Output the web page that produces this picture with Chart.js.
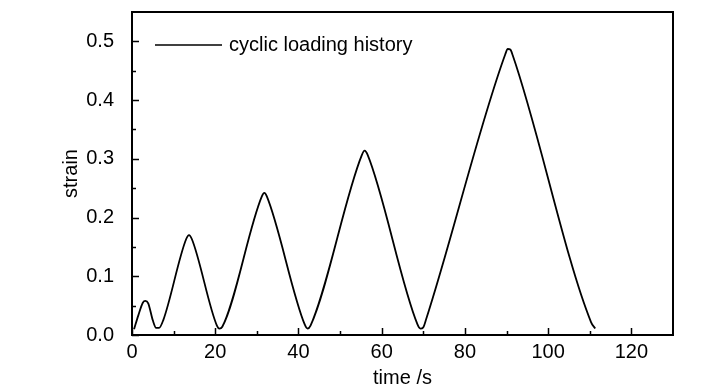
<!DOCTYPE html>
<html>
<head>
<meta charset="utf-8">
<script src="https://cdn.jsdelivr.net/npm/chart.js@4/dist/chart.umd.min.js"></script>
<style>
  html, body { margin: 0; padding: 0; background: #fff; }
  #wrap { width: 728px; height: 390px; }
</style>
</head>
<body>
<div id="wrap"><canvas id="myChart" width="728" height="390"></canvas></div>
<script>
// values
const timeValues = [0.5, 1.5, 2.6, 3.2, 3.9, 5.0, 5.8, 6.5, 7.5,
    13.0, 13.7, 14.4, 20.4, 21.0, 21.7,
    31.2, 31.8, 32.4, 41.5, 42.2, 42.9,
    55.2, 55.9, 56.6, 68.6, 69.3, 70.0, 70.6,
    89.7, 90.3, 90.9, 91.5, 110.3, 111.3];
const strainValues = [0.010, 0.033, 0.055, 0.058, 0.054, 0.025, 0.012, 0.012, 0.025,
    0.163, 0.170, 0.163, 0.016, 0.011, 0.014,
    0.236, 0.242, 0.236, 0.018, 0.011, 0.016,
    0.306, 0.314, 0.307, 0.018, 0.011, 0.013, 0.025,
    0.478, 0.487, 0.486, 0.476, 0.022, 0.011];

const xTicks = [0, 20, 40, 60, 80, 100, 120];
const xMinorTicks = [10, 30, 50, 70, 90, 110];
const yTicks = [0.0, 0.1, 0.2, 0.3, 0.4, 0.5];
const yMinorTicks = [0.05, 0.15, 0.25, 0.35, 0.45];

const seriesLabel = 'cyclic loading history';
const fontFamily = "'Liberation Sans', Arial, sans-serif";

// frame, inward ticks and the legend inside the plot
const framePlugin = {
    id: 'frame',
    afterDraw(chart) {
        const ctx = chart.ctx;
        const area = chart.chartArea;
        const xs = chart.scales.x;
        const ys = chart.scales.y;
        ctx.save();
        ctx.strokeStyle = '#000';
        ctx.lineWidth = 2;
        ctx.strokeRect(area.left, area.top, area.right - area.left, area.bottom - area.top);

        ctx.lineWidth = 1.5;
        ctx.beginPath();
        xTicks.forEach(v => {
            const px = Math.round(xs.getPixelForValue(v)) + 0.5;
            ctx.moveTo(px, area.bottom);
            ctx.lineTo(px, area.bottom - 7);
        });
        xMinorTicks.forEach(v => {
            const px = Math.round(xs.getPixelForValue(v)) + 0.5;
            ctx.moveTo(px, area.bottom);
            ctx.lineTo(px, area.bottom - 4);
        });
        yTicks.forEach(v => {
            const py = Math.round(ys.getPixelForValue(v)) + 0.5;
            ctx.moveTo(area.left, py);
            ctx.lineTo(area.left + 7, py);
        });
        yMinorTicks.forEach(v => {
            const py = Math.round(ys.getPixelForValue(v)) + 0.5;
            ctx.moveTo(area.left, py);
            ctx.lineTo(area.left + 4, py);
        });
        ctx.stroke();

        // legend
        ctx.lineWidth = 1.6;
        ctx.beginPath();
        ctx.moveTo(155, 45);
        ctx.lineTo(222, 45);
        ctx.stroke();
        ctx.fillStyle = '#000';
        ctx.font = '20px ' + fontFamily;
        ctx.textBaseline = 'middle';
        ctx.textAlign = 'left';
        ctx.fillText(chart.data.datasets[0].label, 229, 45);
        ctx.restore();
    }
};

const ctx = document.getElementById('myChart').getContext('2d');
const myChart = new Chart(ctx, {
    type: 'line',
    data: {
        datasets: [{
            label: seriesLabel,
            data: timeValues.map((t, i) => ({ x: t, y: strainValues[i] })),
            borderColor: '#000',
            borderWidth: 1.8,
            pointRadius: 0,
            cubicInterpolationMode: 'monotone',
            fill: false
        }]
    },
    options: {
        responsive: false,
        animation: false,
        layout: { padding: { left: 59, right: 55, top: 12, bottom: 0 } },
        plugins: {
            legend: { display: false },
            tooltip: { enabled: false }
        },
        scales: {
            x: {
                type: 'linear',
                min: 0,
                max: 130,
                grid: { display: false, drawTicks: false },
                border: { display: false },
                afterBuildTicks: s => { s.ticks = xTicks.map(v => ({ value: v })); },
                afterFit: s => { s.height = 55; s.paddingLeft = 0; s.paddingRight = 0; },
                ticks: {
                    color: '#000',
                    padding: 5,
                    maxRotation: 0,
                    font: { family: fontFamily, size: 20 },
                    callback: v => String(v)
                },
                title: {
                    display: true,
                    text: 'time /s',
                    color: '#000',
                    padding: { top: 0, bottom: 0 },
                    font: { family: fontFamily, size: 20 }
                }
            },
            y: {
                type: 'linear',
                min: 0,
                max: 0.55,
                grid: { display: false, drawTicks: false },
                border: { display: false },
                afterBuildTicks: s => { s.ticks = yTicks.map(v => ({ value: v })); },
                afterFit: s => { s.width = 73; s.paddingTop = 0; s.paddingBottom = 0; },
                ticks: {
                    color: '#000',
                    padding: 18,
                    font: { family: fontFamily, size: 20 },
                    callback: v => v.toFixed(1)
                },
                title: {
                    display: true,
                    text: 'strain',
                    color: '#000',
                    padding: { top: 0, bottom: 0 },
                    font: { family: fontFamily, size: 20 }
                }
            }
        }
    },
    plugins: [framePlugin]
});
</script>
</body>
</html>
